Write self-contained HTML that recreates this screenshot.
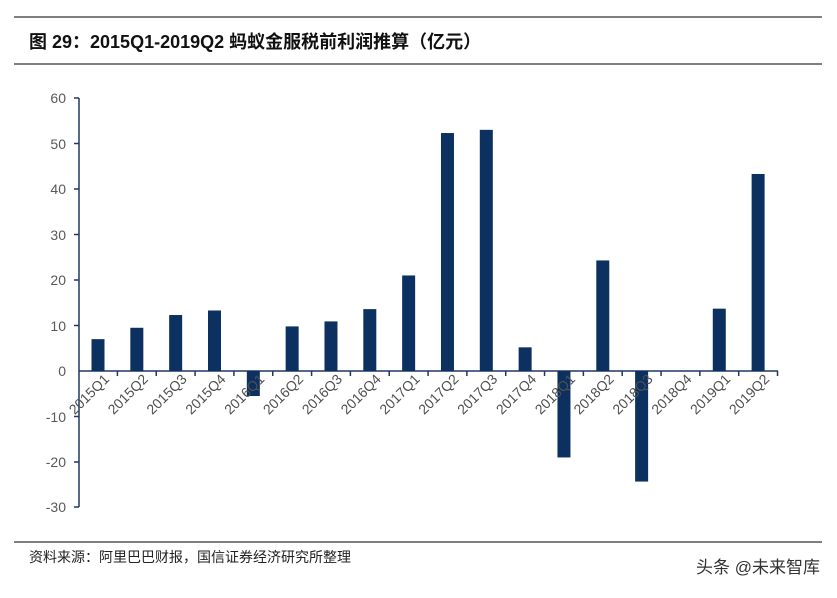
<!DOCTYPE html>
<html><head><meta charset="utf-8"><style>
body{margin:0;background:#fff;width:837px;height:593px;overflow:hidden}
</style></head><body>
<svg width="837" height="593" xmlns="http://www.w3.org/2000/svg" font-family="'Liberation Sans','Noto Sans CJK SC',sans-serif">
<line x1="14" y1="17" x2="822" y2="17" stroke="#555" stroke-width="1.5"/>
<line x1="14" y1="64" x2="822" y2="64" stroke="#555" stroke-width="1.5"/>
<text x="29" y="48" font-size="18" font-weight="bold" fill="#111">图 29：2015Q1-2019Q2 蚂蚁金服税前利润推算（亿元）</text>
<g font-size="14" fill="#595959" text-anchor="end">
<text x="66" y="103">60</text><text x="66" y="149">50</text><text x="66" y="194">40</text>
<text x="66" y="240">30</text><text x="66" y="285">20</text><text x="66" y="331">10</text>
<text x="66" y="376">0</text><text x="66" y="422">-10</text><text x="66" y="467">-20</text><text x="66" y="512">-30</text>
</g>
<g stroke="#1f3864" stroke-width="1.5">
<line x1="79" y1="98" x2="79" y2="507"/>
<line x1="79" y1="371" x2="778" y2="371"/>
<line x1="74" y1="98" x2="79" y2="98"/><line x1="74" y1="143.5" x2="79" y2="143.5"/><line x1="74" y1="189" x2="79" y2="189"/>
<line x1="74" y1="234.5" x2="79" y2="234.5"/><line x1="74" y1="280" x2="79" y2="280"/><line x1="74" y1="325.5" x2="79" y2="325.5"/>
<line x1="74" y1="416.5" x2="79" y2="416.5"/><line x1="74" y1="462" x2="79" y2="462"/><line x1="74" y1="507" x2="79" y2="507"/>
</g>
<g id="bars" fill="#0c3060"></g>
<g id="ticks" stroke="#1f3864" stroke-width="1.5"></g>
<g id="labels" font-size="14" fill="#505050" text-anchor="end"></g>
<line x1="14" y1="542" x2="822" y2="542" stroke="#555" stroke-width="1.5"/>
<text x="29" y="562" font-size="14" fill="#222">资料来源：阿里巴巴财报，国信证券经济研究所整理</text>
<text x="820" y="573" font-size="17" fill="#333" text-anchor="end">头条 @未来智库</text>
<script>
var v=[7,9.5,12.3,13.3,-5.5,9.8,10.9,13.6,21,52.3,53,5.2,-19,24.3,-24.3,0,13.7,43.3];
var n=["2015Q1","2015Q2","2015Q3","2015Q4","2016Q1","2016Q2","2016Q3","2016Q4","2017Q1","2017Q2","2017Q3","2017Q4","2018Q1","2018Q2","2018Q3","2018Q4","2019Q1","2019Q2"];
var ns="http://www.w3.org/2000/svg",b=document.getElementById("bars"),t=document.getElementById("ticks"),l=document.getElementById("labels");
var s=4.55,z=371,w=38.83;
for(var i=0;i<18;i++){var c=98+i*w;
var r=document.createElementNS(ns,"rect");var h=Math.abs(v[i])*s;
r.setAttribute("x",c-6.5);r.setAttribute("width",13);r.setAttribute("y",v[i]>=0?z-h:z);r.setAttribute("height",h);b.appendChild(r);
var k=document.createElementNS(ns,"line");var tx=c+w/2;k.setAttribute("x1",tx);k.setAttribute("x2",tx);k.setAttribute("y1",z);k.setAttribute("y2",z+5);t.appendChild(k);
var x=document.createElementNS(ns,"text");x.setAttribute("transform","translate("+(c+12)+",380) rotate(-45)");x.textContent=n[i];l.appendChild(x);}
</script>
</svg>
</body></html>
